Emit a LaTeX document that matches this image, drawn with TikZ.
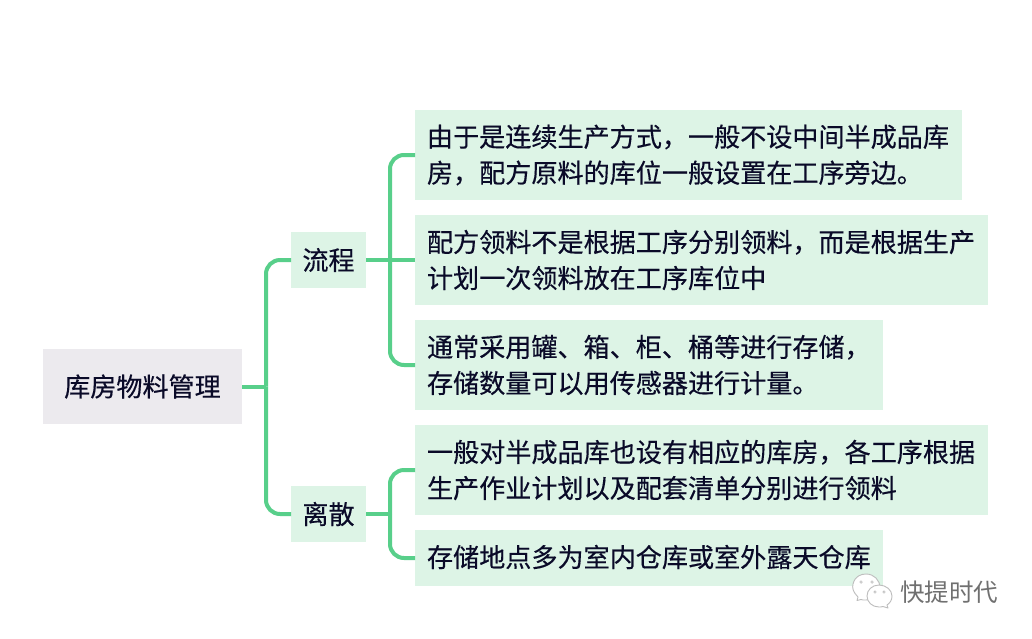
\documentclass[tikz,border=0pt]{standalone}
\usepackage{fontspec}
\setmainfont[FakeBold=0.35]{Noto Sans CJK SC}
\newfontfamily\plainface{Noto Sans CJK SC}
\definecolor{leaf}{HTML}{DDF4E6}
\definecolor{rootbg}{HTML}{ECEAEE}
\definecolor{link}{HTML}{58CF8A}
\definecolor{ink}{HTML}{0A0A28}
\definecolor{mark}{HTML}{707070}
\definecolor{bubble}{HTML}{BDBDBD}
\tikzset{
  x=1pt,y=-1pt,
  base/.style={inner sep=0pt,outer sep=0pt,text=ink,font=\fontsize{26.1pt}{34pt}\selectfont},
  rootbox/.style={base,fill=rootbg,minimum width=199pt,minimum height=75pt},
  midbox/.style={base,fill=leaf,minimum width=75pt,minimum height=56pt},
  leafbox/.style={base,fill=leaf,anchor=west,inner xsep=12pt,text width=#1-24pt,minimum height=90pt,align=left,execute at begin node=\vspace*{2pt}},
  conn/.style={draw=link,line width=4pt,rounded corners=14pt},
  talk/.style={draw=bubble,fill=white,line width=0.9pt,line join=round},
  eye/.style={draw=bubble,fill=white,line width=0.6pt},
}
\begin{document}
\begin{tikzpicture}
\useasboundingbox[fill=white] (0,0) rectangle (1032,638);
\node[rootbox] (root) at (142.5,386.5) {库房物料管理};
\node[midbox] (flow) at (328.5,260) {流程};
\node[midbox] (disc) at (328.5,514) {离散};
\node[leafbox=547pt] (a) at (415,155) {由于是连续生产方式，一般不设中间半成品库\\房，配方原料的库位一般设置在工序旁边。};
\node[leafbox=573pt] (b) at (415,260) {配方领料不是根据工序分别领料，而是根据生产\\计划一次领料放在工序库位中};
\node[leafbox=468pt] (c) at (415,365) {通常采用罐、箱、柜、桶等进行存储，\\存储数量可以用传感器进行计量。};
\node[leafbox=573pt] (d) at (415,470) {一般对半成品库也设有相应的库房，各工序根据\\生产作业计划以及配套清单分别进行领料};
\node[leafbox=468pt,minimum height=56pt] (e) at (415,558) {存储地点多为室内仓库或室外露天仓库};

\coordinate (busr) at (266,386.5);
\coordinate (busf) at (390,260);
\coordinate (busd) at (390,514);
\draw[conn] (root.east) -- (root.east -| busr);
\draw[conn] (busr) |- (flow.west);
\draw[conn] (busr) |- (disc.west);
\draw[conn] (flow.east) -- (b.west);
\draw[conn] (busf) |- (a.west);
\draw[conn] (busf) |- (c.west);
\draw[conn] (disc.east) -- (busd);
\draw[conn] (busd) |- (d.west);
\draw[conn] (busd) |- (e.west);

% watermark
\draw[talk] (858,597) .. controls (853,592) and (852,588) .. (853,584)
  .. controls (855,576) and (861,574) .. (866,574)
  .. controls (874,574) and (880,580) .. (880,588)
  .. controls (880,595) and (873,600) .. (866,600)
  .. controls (864,600) and (862,600) .. (861,599.5) -- (857,600.5) -- cycle;
\draw[eye] (861,582) circle (1.3);
\draw[eye] (872,582) circle (1.3);
\draw[talk] (879,585) .. controls (886,585) and (892,590) .. (892,596)
  .. controls (892,600) and (890,603) .. (887,605) -- (888,608) -- (883,606.5)
  .. controls (881,607) and (880,607) .. (879,607)
  .. controls (872,607) and (867,602) .. (867,596)
  .. controls (867,590) and (872,585) .. (879,585) -- cycle;
\draw[eye] (875,592) circle (1.2);
\draw[eye] (884,592) circle (1.2);
\node[inner sep=0pt,text=mark,font=\plainface\fontsize{24.5pt}{26pt}\selectfont] (brand) at (949,592) {快提时代};
\end{tikzpicture}
\end{document}
